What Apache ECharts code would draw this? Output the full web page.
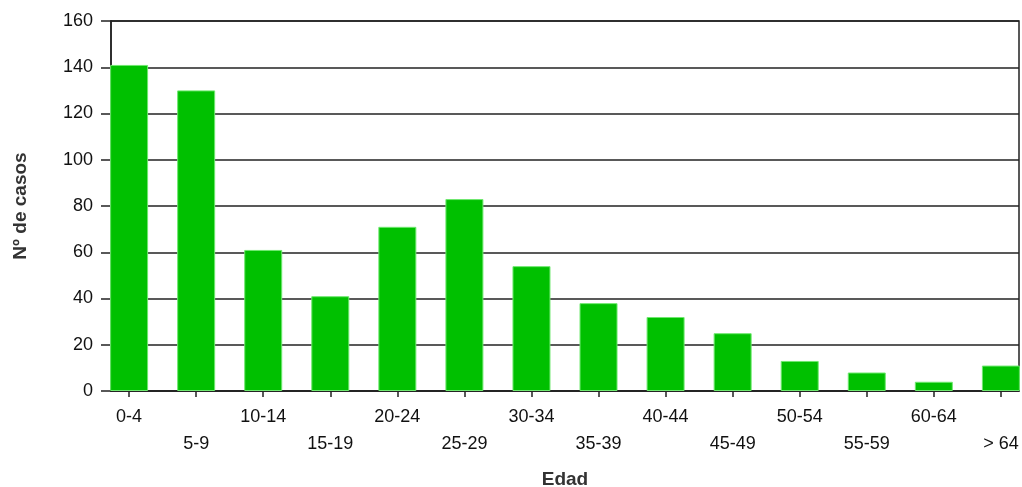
<!DOCTYPE html>
<html>
<head>
<meta charset="utf-8">
<script src="https://cdn.jsdelivr.net/npm/echarts@6/dist/echarts.min.js"></script>
<style>html,body{margin:0;padding:0;background:#fff;}#c{width:1022px;height:487px;}</style>
</head>
<body>
<div id="c"></div>
<script>
const categories = ['0-4','5-9','10-14','15-19','20-24','25-29','30-34','35-39','40-44','45-49','50-54','55-59','60-64','> 64'];
const casos = [141,130,61,41,71,83,54,38,32,25,13,8,4,11];
const yTicks = [0,20,40,60,80,100,120,140,160];
const idx = categories.map((c,i)=>i);

const chart = echarts.init(document.getElementById('c'));
const font = 'Liberation Sans, Arial, sans-serif';
chart.setOption({
  animation:false,
  grid:{left:111,right:3,top:21,bottom:96,outerBoundsMode:'none',containLabel:false,show:true,borderColor:'#222',borderWidth:1.5,backgroundColor:'transparent'},
  xAxis:{
    type:'value', min:-0.27, max:13.27,
    name:'Edad', nameLocation:'middle', nameGap:79,
    nameTextStyle:{fontFamily:font,fontWeight:'bold',fontSize:19,color:'#333',verticalAlign:'top'},
    axisLine:{show:true,onZero:false,lineStyle:{color:'#222',width:1.5}},
    axisTick:{show:true,length:6,customValues:idx,lineStyle:{color:'#222',width:1.5}},
    axisLabel:{customValues:idx,margin:13,fontFamily:font,fontSize:18,color:'#111',lineHeight:27,
      formatter:function(v){const i=Math.round(v);return (i%2===1?'\n':'')+categories[i];}},
    splitLine:{show:false}
  },
  yAxis:{
    type:'value', min:0, max:160, interval:20,
    name:'Nº de casos', nameLocation:'middle', nameGap:81, nameRotate:90,
    nameTextStyle:{fontFamily:font,fontWeight:'bold',fontSize:19,color:'#333'},
    axisLine:{show:true,onZero:false,lineStyle:{color:'#222',width:1.5}},
    axisTick:{show:true,length:10,lineStyle:{color:'#222',width:1.5}},
    axisLabel:{margin:18,fontFamily:font,fontSize:18,color:'#111',
      formatter:function(v){return yTicks.indexOf(v)>=0?String(v):'';}},
    splitLine:{show:true,lineStyle:{color:'#222',width:1.5}}
  },
  series:[{
    type:'bar', barWidth:38, clip:true,
    data: casos.map((v,i)=>[i,v]),
    itemStyle:{color:'#00c000',borderColor:'#6fe86f',borderWidth:1}
  }]
});
</script>
</body>
</html>
